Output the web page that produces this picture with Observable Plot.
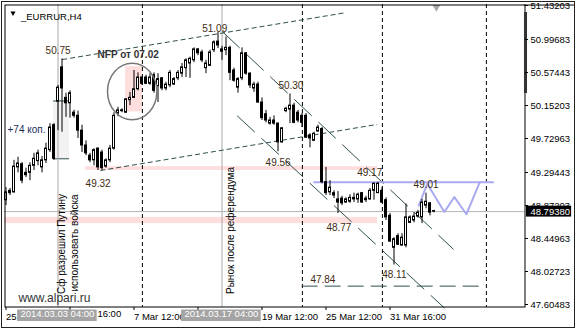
<!DOCTYPE html>
<html><head><meta charset="utf-8">
<script src="https://cdn.jsdelivr.net/npm/d3@7"></script>
<script src="https://cdn.jsdelivr.net/npm/@observablehq/plot@0.6"></script>
<style>
html,body{margin:0;padding:0;background:#fff;}
#chart svg{display:block;outline:1px solid #222;outline-offset:-2px;}
</style>
</head><body><div id="chart"></div>
<script>
// H4 candles, index = bar number
const open  = [48.94,49.06,49.04,49.36,49.40,49.29,49.29,49.38,49.44,49.36,49.45,49.58,49.90,50.20,50.64,50.25,50.18,50.06,50.02,49.83,49.64,49.51,49.45,49.60,49.55,49.37,49.45,49.60,50.05,50.08,50.06,50.22,50.25,50.36,50.51,50.51,50.43,50.54,50.40,50.50,50.37,50.41,50.42,50.50,50.56,50.63,50.69,50.73,50.87,50.83,50.63,50.66,50.86,50.97,50.87,50.86,50.89,50.60,50.38,50.50,50.82,50.56,50.37,50.42,50.19,50.04,49.92,49.96,49.92,49.68,50.08,50.10,50.15,50.06,50.02,50.02,49.77,49.70,49.82,49.85,49.17,49.04,49.03,48.95,48.96,48.91,48.92,48.95,48.95,49.03,48.96,48.95,49.06,49.03,49.06,48.94,48.74,48.33,48.48,48.36,48.36,48.65,48.68,48.73,48.72,48.87,48.90,48.80];
const high  = [49.10,49.09,49.45,49.49,49.42,49.35,49.42,49.54,49.58,49.50,49.67,49.92,49.92,50.41,50.75,50.31,50.34,50.09,50.08,49.90,49.70,49.54,49.60,49.61,49.58,49.47,49.64,50.06,50.13,50.11,50.24,50.32,50.60,50.57,50.52,50.54,50.56,50.57,50.56,50.51,50.45,50.60,50.51,50.60,50.69,50.75,50.77,50.89,50.88,50.86,50.73,50.86,50.98,51.09,50.91,51.03,50.91,50.63,50.51,50.89,50.83,50.57,50.45,50.45,50.25,50.09,50.00,50.02,49.93,49.87,50.13,50.30,50.18,50.09,50.05,50.05,49.79,49.81,49.90,49.87,49.36,49.19,49.06,49.05,48.99,48.97,49.01,49.03,49.03,49.04,48.99,49.09,49.16,49.17,49.10,48.97,48.77,48.46,48.51,48.51,48.89,48.74,48.78,48.81,48.95,49.03,48.91,48.81];
const low   = [48.87,49.00,49.03,49.29,49.15,49.23,49.19,49.32,49.38,49.29,49.41,49.55,49.45,49.83,49.81,50.00,49.99,49.99,49.73,49.55,49.51,49.42,49.38,49.32,49.32,49.35,49.42,49.58,50.01,50.06,50.05,50.15,50.24,50.34,50.41,50.42,50.41,50.31,50.19,50.34,50.34,50.38,50.41,50.47,50.51,50.51,50.50,50.70,50.79,50.70,50.56,50.65,50.83,50.88,50.73,50.79,50.47,50.45,50.31,50.47,50.54,50.37,50.32,50.18,49.96,49.93,49.90,49.90,49.56,49.67,50.06,49.92,49.92,49.93,49.87,49.73,49.61,49.69,49.81,49.15,49.00,49.00,48.96,48.77,48.87,48.90,48.90,48.91,48.90,48.90,48.91,48.94,48.94,49.03,48.90,48.68,48.40,48.11,48.36,48.35,48.33,48.64,48.65,48.71,48.64,48.83,48.74,48.78];
const close = [49.04,49.03,49.37,49.41,49.19,49.26,49.38,49.47,49.54,49.45,49.60,49.87,49.47,50.38,50.37,50.18,50.31,50.02,49.83,49.64,49.54,49.45,49.58,49.36,49.35,49.45,49.60,50.02,50.09,50.09,50.23,50.25,50.36,50.51,50.43,50.43,50.51,50.34,50.49,50.37,50.42,50.57,50.49,50.57,50.64,50.73,50.75,50.87,50.82,50.73,50.69,50.83,50.96,50.92,50.84,50.89,50.57,50.47,50.49,50.82,50.56,50.41,50.42,50.19,49.99,49.96,49.96,49.92,49.68,49.86,50.11,50.15,49.93,49.96,49.93,49.74,49.73,49.79,49.87,49.17,49.03,49.10,49.00,48.91,48.90,48.95,48.97,48.97,49.01,48.91,48.94,49.06,49.15,49.15,48.91,48.72,48.41,48.44,48.37,48.46,48.72,48.72,48.73,48.78,48.91,48.92,48.78,48.7938];
const lastPrice = 48.7938;

// axes
const priceTicks = [51.43203,50.99683,50.57443,50.15203,49.72963,49.29443,48.87203,48.44963,48.02723,47.60483];
const timeTicks  = [0,16,32,48,64,80,96];
const timeLabels = ["25","","7 Mar 12:00","","19 Mar 12:00","25 Mar 12:00","31 Mar 16:00"];
const partialLabel = [{x: 22.85, t: "16:00"}];   // tail of the 3 Mar 16:00 label left visible by the event box

// annotations (bar index, price)
const eventBars   = [13, 54];
const eventLabels = ["2014.03.03 04:00","2014.03.17 04:00"];
const separators  = [34.1, 74.1, 94.1, 120.1];
const bandX1 = [19.9, -0.4], bandX2 = [92.9, 92.9], bandLo = [49.32, 48.64], bandHi = [49.37, 48.72];
const nfpZone = {x1: 29.9, x2: 34.1, lo: 50.07, hi: 50.65};
const gapZone = {x1: 11.9, x2: 15.9, lo: 49.47, hi: 50.21};
const channelLines = [{x1:14.05,y1:50.74,x2:84.9,y2:51.34},{x1:23.6,y1:49.32,x2:92.8,y2:49.91}];
const trendLines   = [{x1:54.05,y1:51.10,x2:111.9,y2:48.31},{x1:57.8,y1:50.02,x2:109.6,y2:47.56}];
const supportLine  = [{x1:74.05,x2:120,y:47.84}];
const targetLine   = [{x1:76.95,x2:122.1,y:49.17}];
const zigzagX = [103.2,105.3,109.6,112.1,115.1,118.45];
const zigzagY = [48.87,49.15,48.79,48.98,48.76,49.17];
const levelText = ["50.75","51.09","50.30","49.56","49.32","49.17","48.77","49.01","48.11","47.84"];
const levelX    = [9.9,49.05,68.1,64.9,19.9,87.8,80.1,101.9,94.05,76.1];
const levelY    = [50.856,51.138,50.408,49.422,49.154,49.288,48.59,49.141,47.982,47.918];
const circleAt  = {x: 31.55, y: 50.331};

const candles = open.map((o, i) => ({i, o, h: high[i], l: low[i], c: close[i]}));
const bands = bandX1.map((x1, j) => ({x1, x2: bandX2[j], lo: bandLo[j], hi: bandHi[j]}));
const zigzag = zigzagX.map((x, j) => ({x, y: zigzagY[j]}));
const levels = levelText.map((t, j) => ({t, x: levelX[j], y: levelY[j]}));
const events = eventBars.map((x, j) => ({x, t: eventLabels[j]}));

const ellipse = {draw(ctx) {
  const rx = 24.7, ry = 28.3, m = 0.5523;
  ctx.moveTo(rx, 0);
  ctx.bezierCurveTo(rx, ry*m, rx*m, ry, 0, ry);
  ctx.bezierCurveTo(-rx*m, ry, -rx, ry*m, -rx, 0);
  ctx.bezierCurveTo(-rx, -ry*m, -rx*m, -ry, 0, -ry);
  ctx.bezierCurveTo(rx*m, -ry, rx, -ry*m, rx, 0);
  ctx.closePath();
}};

const slate = "#2f4f4f";
const lav = "#aaaaf0";
const pink = "#ffdede";
const lblColor = "#3d2c12";

const chart = Plot.plot({
  width: 576, height: 329,
  marginTop: 4, marginLeft: 4, marginRight: 52, marginBottom: 22,
  style: {fontFamily: "'Liberation Sans', Arial, sans-serif", fontSize: "9.5px", background: "#fff", color: "#000", overflow: "visible"},
  x: {type: "linear", domain: [0, 130], range: [5.5, 525.5]},
  y: {type: "linear", domain: [47.60483, 51.43203], range: [304, 5]},
  marks: [
    Plot.rect(bands, {x1: "x1", x2: "x2", y1: "lo", y2: "hi", fill: pink}),
    Plot.rect([gapZone], {x1: "x1", x2: "x2", y1: "lo", y2: "hi", fill: "#f2f2f2"}),
    Plot.ruleY([gapZone], {y: "lo", x1: "x1", x2: "x2", stroke: slate}),
    Plot.ruleY([gapZone], {y: "hi", x1: "x1", x2: "x2", stroke: slate}),
    Plot.rect([nfpZone], {x1: "x1", x2: "x2", y1: "lo", y2: "hi", fill: pink}),
    Plot.ruleY([lastPrice], {stroke: "#b4b4b4"}),
    Plot.ruleX(events, {x: "x", stroke: "#a8a8a8"}),
    Plot.ruleX(separators, {stroke: "#000", strokeDasharray: "4,3"}),
    Plot.link(channelLines, {x1: "x1", y1: "y1", x2: "x2", y2: "y2", stroke: slate, strokeDasharray: "5,3"}),
    Plot.link(trendLines, {x1: "x1", y1: "y1", x2: "x2", y2: "y2", stroke: slate, strokeDasharray: "24,9"}),
    Plot.ruleY(supportLine, {y: "y", x1: "x1", x2: "x2", stroke: slate, strokeDasharray: "16,7"}),
    Plot.ruleY(targetLine, {y: "y", x1: "x1", x2: "x2", stroke: lav, strokeWidth: 2}),
    Plot.line(zigzag, {x: "x", y: "y", stroke: lav, strokeWidth: 2}),
    Plot.ruleX(candles, {x: "i", y1: "l", y2: "h", stroke: "#000"}),
    Plot.rect(candles, {x1: d => d.i - 0.25, x2: d => d.i + 0.25, y1: "o", y2: "c",
      fill: d => d.c >= d.o ? "#fff" : "#000", stroke: "#000"}),
    Plot.dot([circleAt], {x: "x", y: "y", symbol: ellipse, fill: "none", stroke: "#777"}),
    Plot.text(levels, {x: "x", y: "y", text: "t", textAnchor: "start", fill: lblColor, fontSize: 10}),
    Plot.text([{x: 22.9, y: 50.805}], {x: "x", y: "y", text: () => "NFP от 07.02", textAnchor: "start", fill: "#333", fontWeight: "bold", fontSize: 10}),
    Plot.text([{x: 0.375, y: 49.838}], {x: "x", y: "y", text: () => "+74 коп.", textAnchor: "start", fill: "#1c2f5a", fontSize: 10}),
    Plot.text([{x: 3.1, y: 47.688}], {x: "x", y: "y", text: () => "www.alpari.ru", textAnchor: "start", fill: "#333", fontSize: 12}),
    Plot.text([{x: 14.8, t: "Сф разрешил Путину"}, {x: 56.9, t: "Рынок после референдума"}], {x: "x", text: "t", frameAnchor: "bottom", dy: -13.5, rotate: -90, textAnchor: "start", fontSize: 10}),
    Plot.text([{x: 17.9, t: "использовать войска"}], {x: "x", text: "t", frameAnchor: "bottom", dy: -16, rotate: -90, textAnchor: "start", fontSize: 10}),
    Plot.dot([0], {frameAnchor: "top-left", dx: 8.5, dy: 8.5, symbol: "triangle", rotate: 180, r: 1.9, fill: "#000", stroke: null}),
    Plot.text(["_EURRUR,H4"], {frameAnchor: "top-left", dx: 16.5, dy: 8.5, textAnchor: "start", text: d => d, fontSize: 9.5}),
    Plot.dot([107.6], {x: d => d, frameAnchor: "top", dy: 2.8, symbol: "triangle", rotate: 180, r: 2.9, fill: "#a8a8a8", stroke: null}),
    Plot.frame({stroke: "#000", insetLeft: 0.5, insetTop: 0.5, insetRight: -0.5, insetBottom: 0.5}),
    Plot.ruleY([51.438], {x1: 129.6, x2: 142.1, stroke: "#000"}),
    Plot.rect([{x1: 129.62, x2: 130.38, lo: 50.306, hi: 51.342}], {x1: "x1", x2: "x2", y1: "lo", y2: "hi", fill: "#333"}),
    Plot.axisY({anchor: "right", ticks: priceTicks, tickFormat: d => d.toFixed(5), tickSize: 3, tickPadding: 3, fontSize: 9.5}),
    Plot.axisX({anchor: "bottom", ticks: timeTicks, tickFormat: d => timeLabels[timeTicks.indexOf(d)], tickSize: 3, tickPadding: 3, textAnchor: "start", fontSize: 9.5}),
    Plot.text(partialLabel, {x: "x", text: "t", frameAnchor: "bottom", dy: 9.8, textAnchor: "start", fontSize: 9.5}),
    Plot.rect(events, {x1: d => d.x - 10.1, x2: d => d.x + 9.8, y1: 47.387, y2: 47.534, fill: "#a4a4a4"}),
    Plot.text(events, {x: d => d.x - 0.15, text: "t", frameAnchor: "bottom", dy: 9.5, fill: "#fff", fontSize: 9.5}),
    Plot.rect([{x1: 130.12, x2: 141.4, lo: lastPrice - 0.07, hi: lastPrice + 0.07}], {x1: "x1", x2: "x2", y1: "lo", y2: "hi", fill: "#000"}),
    Plot.text([lastPrice], {x: 131.1, y: d => d, text: d => d.toFixed(5), textAnchor: "start", fill: "#fff", fontSize: 9.5})
  ]
});
document.getElementById("chart").appendChild(chart);
</script>
</body></html>
